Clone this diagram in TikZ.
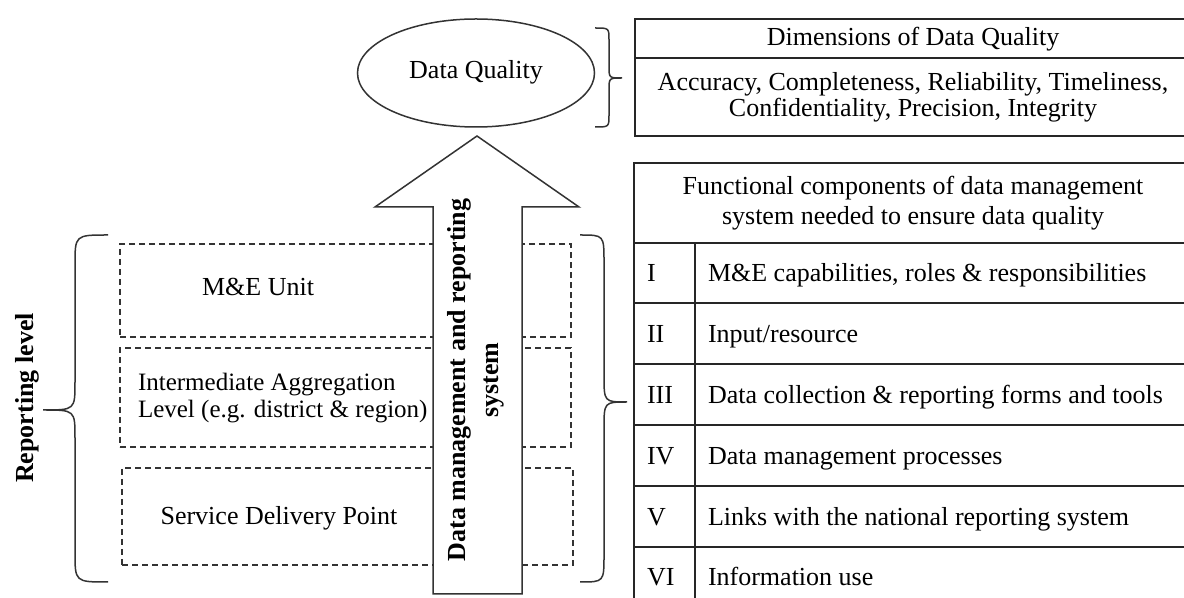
\documentclass[tikz,border=0pt]{standalone}
\usepackage{fontspec}
\setmainfont{Liberation Serif}
\usetikzlibrary{shapes.geometric}
\begin{document}
\begin{tikzpicture}[x=0.5pt,y=-0.5pt,
  every node/.style={font=\fontsize{13}{14.5}\selectfont, inner sep=0pt, outer sep=0pt},
  ln/.style={line width=0.9pt, draw=black!85},
  thinln/.style={line width=0.75pt, draw=black!80},
  dashbox/.style={draw=black!80, line width=0.7pt, dash pattern=on 3pt off 2pt, anchor=north west},
  bracepath/.style={line width=0.75pt, draw=black!80},
  boldlbl/.style={font=\fontsize{13}{16.5}\selectfont\bfseries, rotate=90, align=center},
  rowtxt/.style={anchor=west, text height=8.6pt, text depth=0pt},
]
\clip (0,0) rectangle (1184,598);

% dashed reporting-level boxes
\node[dashbox, minimum width=225.5pt, minimum height=46.5pt] (b1) at (120,244) {};
\node[dashbox, minimum width=225.5pt, minimum height=49.5pt] (b2) at (120,348) {};
\node[dashbox, minimum width=225.5pt, minimum height=48.5pt] (b3) at (122,468) {};
\node (t1) at (258,287) {M\&E Unit};
\node[anchor=west, align=left, font=\fontsize{12.5}{13.5}\selectfont] (t2) at (138,398) {Intermediate Aggregation\\Level (e.g. district \& region)};
\node (t3) at (279,518) {Service Delivery Point};

% big arrow
\draw[thinln, fill=white] (477,136) -- (579,207) -- (522,207) -- (522,594) -- (433,594) -- (433,207) -- (375,207) -- cycle;
\node[boldlbl] (arr) at (476,380) {Data management and reporting\\system};

% ellipse
\node[ellipse, thinln, minimum width=118.5pt, minimum height=54pt] (dq) at (476,73) {};
\node (dqt) at (476,72) {Data Quality};

% braces
\draw[bracepath] (595,28) .. controls (609,28) .. (609,40) -- (609,66) .. controls (609,78) .. (622,78) .. controls (609,78) .. (609,90) -- (609,115) .. controls (609,127) .. (595,127);
\draw[bracepath] (108,235) .. controls (75,235) .. (75,265) -- (75,382) .. controls (75,410) .. (43,410) .. controls (75,410) .. (75,438) -- (75,552) .. controls (75,582) .. (108,582);
\draw[bracepath] (580,235) .. controls (604,235) .. (604,262) -- (604,375) .. controls (604,402) .. (627,402) .. controls (604,402) .. (604,429) -- (604,555) .. controls (604,582) .. (580,582);

\node[boldlbl] (rl) at (27,398) {Reporting level};

% dimensions table
\draw[ln] (1195,19) -- (635,19) -- (635,136) -- (1195,136);
\draw[ln] (635,58) -- (1195,58);
\node (dimh) at (913,39) {Dimensions of Data Quality};
\node[align=center, font=\fontsize{13}{13}\selectfont] (dimt) at (913,97) {Accuracy, Completeness, Reliability, Timeliness,\\Confidentiality, Precision, Integrity};

% functional components table
\draw[ln] (1195,163) -- (634,163) -- (634,615);
\foreach \yy in {243,303,364,425,486,547} \draw[ln] (634,\yy) -- (1195,\yy);
\draw[ln] (695,243) -- (695,615);
\node[align=center, font=\fontsize{13}{15}\selectfont] (fch) at (913,203) {Functional components of data management\\system needed to ensure data quality};

\node[rowtxt] (n1) at (647,273) {I};
\node[rowtxt] (r1) at (708,273) {M\&E capabilities, roles \& responsibilities};
\node[rowtxt] (n2) at (647,333.5) {II};
\node[rowtxt] (r2) at (708,333.5) {Input/resource};
\node[rowtxt] (n3) at (647,394.5) {III};
\node[rowtxt] (r3) at (708,394.5) {Data collection \& reporting forms and tools};
\node[rowtxt] (n4) at (647,455.5) {IV};
\node[rowtxt] (r4) at (708,455.5) {Data management processes};
\node[rowtxt] (n5) at (647,516.5) {V};
\node[rowtxt] (r5) at (708,516.5) {Links with the national reporting system};
\node[rowtxt] (n6) at (647,577) {VI};
\node[rowtxt] (r6) at (708,577) {Information use};
\end{tikzpicture}
\end{document}
